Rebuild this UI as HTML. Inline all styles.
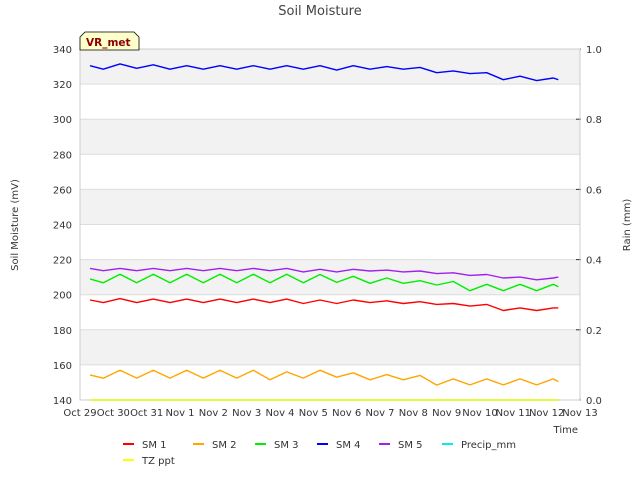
<!DOCTYPE html>
<html><head><meta charset="utf-8"><style>
body{margin:0;background:#fff;}
svg{display:block;font-family:"DejaVu Sans","Liberation Sans",sans-serif;}
</style></head><body>
<svg id="chart" width="640" height="480" viewBox="0 0 640 480" xmlns="http://www.w3.org/2000/svg">
<text x="320" y="15" text-anchor="middle" font-size="13" fill="#444">Soil Moisture</text>
<g id="bands"></g>
<g id="axes"></g>
<g id="series"></g>
<g>
<path d="M80,50 L80,37 L85,32 L134,32 L139,37 L139,50 Z" fill="#ffffcc" stroke="#000" stroke-width="0.8"/>
<text x="86" y="46" font-size="10.5" font-weight="bold" fill="#8b0000">VR_met</text>
</g>
<text transform="translate(18,225) rotate(-90)" text-anchor="middle" font-size="10" fill="#333">Soil Moisture (mV)</text>
<text transform="translate(630,225) rotate(-90)" text-anchor="middle" font-size="10" fill="#333">Rain (mm)</text>
<text x="578" y="433" text-anchor="end" font-size="10" fill="#333">Time</text>
<g id="legend"></g>
</svg>
<script>
const dayLabels=["Oct 29","Oct 30","Oct 31","Nov 1","Nov 2","Nov 3","Nov 4","Nov 5","Nov 6","Nov 7","Nov 8","Nov 9","Nov 10","Nov 11","Nov 12","Nov 13"];
const yTicks=[140,160,180,200,220,240,260,280,300,320,340];
const y2Ticks=[0,0.2,0.4,0.6,0.8,1.0];
const times=[0.3,0.7,1.2,1.7,2.2,2.7,3.2,3.7,4.2,4.7,5.2,5.7,6.2,6.7,7.2,7.7,8.2,8.7,9.2,9.7,10.2,10.7,11.2,11.7,12.2,12.7,13.2,13.7,14.2,14.35];
const sm1=[197,195.5,197.8,195.5,197.5,195.5,197.5,195.5,197.5,195.5,197.5,195.5,197.5,195,197,195,197,195.5,196.5,195,196,194.5,195,193.5,194.5,191,192.5,191,192.5,192.5];
const sm2=[154.3,152.4,157,152.5,157,152.5,157,152.5,157,152.5,157,151.5,156,152.5,157,153,155.5,151.5,154.5,151.5,154,148.5,152,148.6,152,148.6,152,148.6,152,150.5];
const sm3=[209,206.8,211.7,206.8,211.7,206.8,211.7,206.8,211.7,206.8,211.7,206.8,211.7,206.8,211.5,207,210.5,206.5,209.5,206.5,208,205.5,207.5,202.3,205.9,202.3,205.9,202.3,205.9,204.5];
const sm4=[330.5,328.5,331.5,329,331,328.5,330.5,328.5,330.5,328.5,330.5,328.5,330.5,328.5,330.5,328,330.5,328.5,330,328.5,329.5,326.5,327.5,326,326.5,322.5,324.5,322,323.5,322.5];
const sm5=[215,213.7,215,213.7,215,213.7,215,213.7,215,213.7,215,213.7,215,213,214.5,213,214.5,213.5,214,213,213.5,212,212.5,211,211.5,209.5,210,208.5,209.5,210];
const precip=[0,0,0,0,0,0,0,0,0,0,0,0,0,0,0,0,0,0,0,0,0,0,0,0,0,0,0,0,0,0];
const tzppt=[0,0,0,0,0,0,0,0,0,0,0,0,0,0,0,0,0,0,0,0,0,0,0,0,0,0,0,0,0,0];
const L=80,R=580,T=49,B=400;
const xs=d=>L+d*(R-L)/15;
const ys=v=>B-(v-140)*(B-T)/200;
const ys2=v=>B-v*(B-T)/1;
const NS="http://www.w3.org/2000/svg";
function mk(tag,attrs,parent){const e=document.createElementNS(NS,tag);for(const k in attrs)e.setAttribute(k,attrs[k]);parent.appendChild(e);return e;}
const bands=document.getElementById('bands'),axes=document.getElementById('axes'),series=document.getElementById('series'),legend=document.getElementById('legend');
mk('rect',{x:L,y:T,width:R-L,height:B-T,fill:'#fff'},bands);
for(let i=0;i<yTicks.length-1;i++){
  if(i%2===1){const r=mk('rect',{x:L,y:ys(yTicks[i+1]),width:R-L,height:ys(yTicks[i])-ys(yTicks[i+1]),fill:'#f2f2f2'},bands);
  
  }
}
yTicks.forEach(v=>{
  mk('line',{x1:L,x2:R,y1:ys(v),y2:ys(v),stroke:'#ddd','stroke-width':1},bands);
  const t=mk('text',{x:L-8,y:ys(v)+4,'text-anchor':'end','font-size':10,fill:'#333'},axes);t.textContent=v;
  
  
});
y2Ticks.forEach(v=>{
  mk('line',{x1:R-4,x2:R+1,y1:ys2(v),y2:ys2(v),stroke:'#333'},axes);
  const t=mk('text',{x:R+6,y:ys2(v)+4,'font-size':10,fill:'#333'},axes);t.textContent=v.toFixed(1);
  
  
});
dayLabels.forEach((s,i)=>{
  const t=mk('text',{x:xs(i),y:416,'text-anchor':'middle','font-size':10,fill:'#333'},axes);t.textContent=s;
  
  
});
mk('rect',{x:L,y:T,width:R-L,height:B-T,fill:'none',stroke:'#ccc'},axes);
const defs=[["SM 1",sm1,'#ff0000',ys],["SM 2",sm2,'#ffa500',ys],["SM 3",sm3,'#00ee00',ys],["SM 4",sm4,'#0000ff',ys],["SM 5",sm5,'#a020f0',ys],["Precip_mm",precip,'#00eeee',ys2],["TZ ppt",tzppt,'#ffff00',ys2]];
defs.forEach(([name,arr,col,sc])=>{
  const p=mk('polyline',{points:arr.map((v,i)=>xs(times[i]).toFixed(1)+','+sc(v).toFixed(1)).join(' '),fill:'none',stroke:col,'stroke-width':1.4,'stroke-linejoin':'round'},series);
  
  
});
const legPos=[[123,444],[193,444],[255,444],[317,444],[379,444],[442,444],[123,460]];
defs.forEach(([name,,col],i)=>{
  const [x,y]=legPos[i];
  const g=mk('g',{},legend);
  
  
  mk('line',{x1:x,x2:x+11,y1:y,y2:y,stroke:col,'stroke-width':2},g);
  const t=mk('text',{x:x+19,y:y+4,'font-size':10,fill:'#333'},g);t.textContent=name;
});
</script>
</body></html>
